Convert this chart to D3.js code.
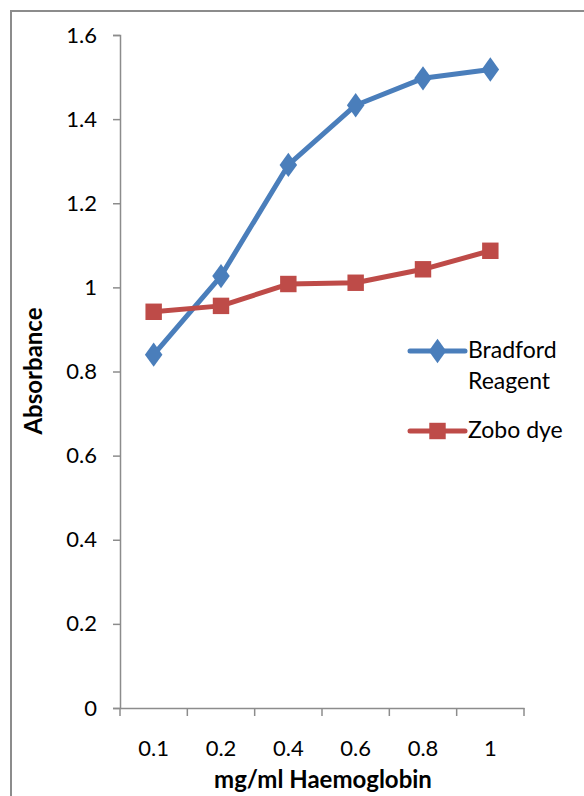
<!DOCTYPE html>
<html>
<head>
<meta charset="utf-8">
<script src="https://cdn.jsdelivr.net/npm/d3@7"></script>
<style>
  body { margin: 0; background: #fff; }
  svg { display: block; font-family: Lato, "Open Sans", sans-serif; }
</style>
</head>
<body>
<div></div>
<script>
// absorbance vs haemoglobin concentration, two dyes

const categories = ['0.1', '0.2', '0.4', '0.6', '0.8', '1'];
const bradford = [0.84, 1.027, 1.291, 1.433, 1.497, 1.518];
const zobo = [0.942, 0.956, 1.008, 1.011, 1.043, 1.087];
const yTicks = [0, 0.2, 0.4, 0.6, 0.8, 1, 1.2, 1.4, 1.6];

const WIDTH = 584;
const HEIGHT = 796;
const FONT = 22;
const margin = { left: 120, right: 60, top: 35, bottom: 88 };

const svg = d3.select('div').append('svg')
  .attr('width', WIDTH)
  .attr('height', HEIGHT);

// chart frame, runs off the right and bottom of the picture
svg.append('rect')
  .attr('x', 11).attr('y', 11)
  .attr('width', WIDTH).attr('height', HEIGHT)
  .attr('fill', 'none')
  .attr('stroke', '#8c8c8c')
  .attr('stroke-width', 2);

const x = d3.scaleBand()
  .domain(categories)
  .range([margin.left, 524]);

const y = d3.scaleLinear()
  .domain([0, 1.6])
  .range([708, margin.top]);

const yAxis = svg.append('g')
  .attr('transform', `translate(${margin.left},0)`)
  .call(d3.axisLeft(y).tickValues(yTicks).tickSize(7).tickPadding(16)
    .tickFormat(d => d3.format('~g')(d)));

const xAxis = svg.append('g')
  .attr('transform', `translate(0,${y(0)})`)
  .call(d3.axisBottom(x).tickSize(0).tickPadding(32));

// category boundary ticks
xAxis.selectAll('.edge')
  .data(d3.range(categories.length + 1))
  .enter()
  .append('line')
  .attr('x1', i => margin.left + i * x.step())
  .attr('x2', i => margin.left + i * x.step())
  .attr('y1', 0).attr('y2', 8)
  .attr('stroke', '#8c8c8c')
  .attr('stroke-width', 1.5);

[yAxis, xAxis].forEach(ax => {
  ax.select('.domain').attr('stroke', '#8c8c8c').attr('stroke-width', 1.5);
  ax.selectAll('.tick line').attr('stroke', '#8c8c8c').attr('stroke-width', 1.5);
  ax.selectAll('.tick text').attr('font-size', FONT).attr('fill', '#000')
    .attr('font-family', 'Lato, "Open Sans", sans-serif');
});

svg.append('text')
  .attr('x', (margin.left + 524) / 2 + 1)
  .attr('y', 788)
  .attr('text-anchor', 'middle')
  .attr('font-size', 24)
  .attr('font-weight', 'bold')
  .text('mg/ml Haemoglobin');

svg.append('text')
  .attr('transform', 'translate(42,371) rotate(-90)')
  .attr('text-anchor', 'middle')
  .attr('font-size', 24)
  .attr('font-weight', 'bold')
  .text('Absorbance');

const cx = d => x(d) + x.bandwidth() / 2;
const series = [
  { name: ['Bradford', 'Reagent'], values: bradford, color: '#4a7ebb', symbol: d3.symbolDiamond, size: 170, ly: 351 },
  { name: ['Zobo dye'], values: zobo, color: '#be4b48', symbol: d3.symbolSquare, size: 270, ly: 431 },
];

series.forEach(s => {
  const line = d3.line()
    .x((d, i) => cx(categories[i]))
    .y(d => y(d));

  svg.append('path')
    .datum(s.values)
    .attr('d', line)
    .attr('fill', 'none')
    .attr('stroke', s.color)
    .attr('stroke-width', 5)
    .attr('stroke-linejoin', 'round');

  svg.selectAll(null)
    .data(s.values)
    .enter()
    .append('path')
    .attr('d', d3.symbol().type(s.symbol).size(s.size))
    .attr('transform', (d, i) => `translate(${cx(categories[i])},${y(d)})` +
      (s.symbol === d3.symbolDiamond ? ' scale(1.25,1)' : ''))
    .attr('fill', s.color);

  // legend entry
  const lg = svg.append('g');
  lg.append('line')
    .attr('x1', 410).attr('x2', 465)
    .attr('y1', s.ly).attr('y2', s.ly)
    .attr('stroke', s.color)
    .attr('stroke-width', 5)
    .attr('stroke-linecap', 'round');
  lg.append('path')
    .attr('d', d3.symbol().type(s.symbol).size(s.size))
    .attr('transform', `translate(437.5,${s.ly})` +
      (s.symbol === d3.symbolDiamond ? ' scale(1.25,1)' : ''))
    .attr('fill', s.color);
  s.name.forEach((t, i) => {
    lg.append('text')
      .attr('x', 468)
      .attr('y', s.ly + 7 + i * 31)
      .attr('font-size', 23)
      .text(t);
  });
});
</script>
</body>
</html>
